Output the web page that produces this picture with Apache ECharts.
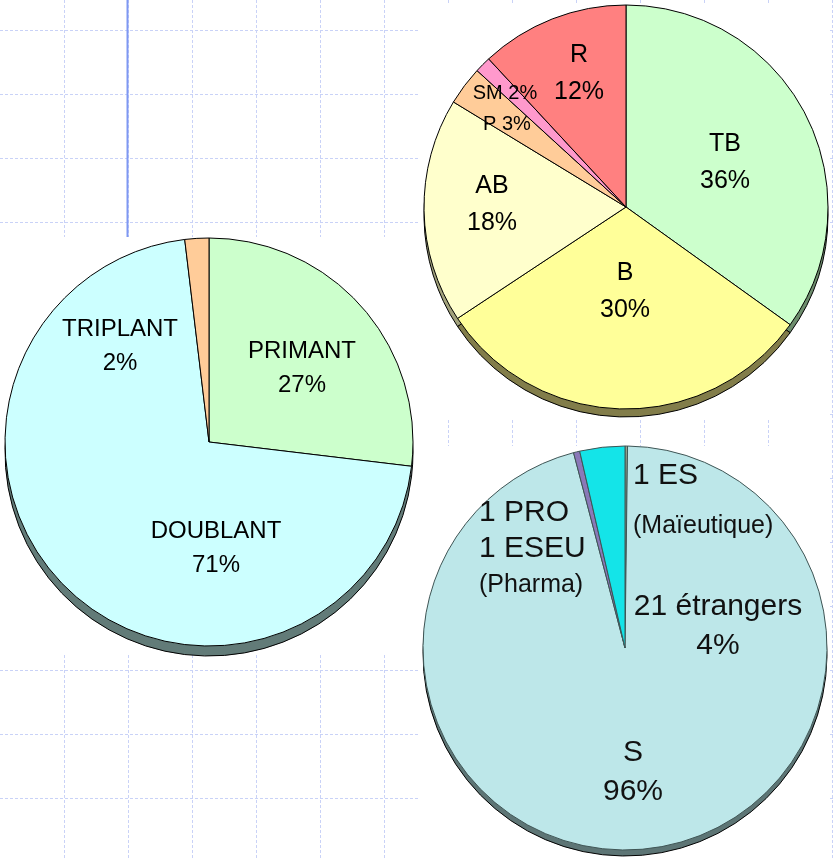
<!DOCTYPE html>
<html>
<head>
<meta charset="utf-8">
<title>Répartition des étudiants</title>
<script src="https://cdn.jsdelivr.net/npm/echarts@6/dist/echarts.min.js"></script>
<style>
  html, body { margin: 0; padding: 0; background: #fff; }
  #chart { width: 835px; height: 858px; }
</style>
</head>
<body>
<div id="chart"></div>
<script>
// top right pie: mentions
const gradeNames = ['TB', 'B', 'AB', 'P', 'SM', 'R'];
const gradeValues = [34.9, 30.8, 18.0, 3.1, 1.3, 11.9];
const gradePct = ['36%', '30%', '18%', '3%', '2%', '12%'];

// left pie: primant / doublant / triplant
const attemptNames = ['PRIMANT', 'DOUBLANT', 'TRIPLANT'];
const attemptValues = [26.9, 71.2, 1.9];
const attemptPct = ['27%', '71%', '2%'];

// bottom right pie: bac
const bacNames = ['1 ES', 'S', '1 PRO 1 ESEU', '21 étrangers'];
const bacValues = [0.2, 95.7, 0.5, 3.6];
const bacLabels = ['1 ES\n(Maïeutique)', 'S\n96%', '1 PRO\n1 ESEU\n(Pharma)', '21 étrangers\n4%'];

// colours and label placement
const gradeColors = ['#ccffcc', '#ffff99', '#ffffcc', '#ffcc99', '#ff99cc', '#ff8080'];
const gradeSide = ['#6d8d6d', '#827d4a', '#a2a27c', '#a08060', '#a06080', '#a05050'];
const gradeLabelPos = [[725, 163], [625, 292], [492, 205], [507, 124], [505, 93], [579, 74]];

const attemptColors = ['#ccffcc', '#ccffff', '#ffcc99'];
const attemptLabelPos = [[302, 368], [216, 548], [120, 346]];

const bacColors = ['#98a890', '#bde7e9', '#8a78b8', '#14e4e8'];
const bacLabelPos = [[633, 501], [633, 772], [479, 549], [718, 626]];
const bacAlign = ['left', 'center', 'left', 'center'];

const FONT = 'Liberation Sans, Arial, sans-serif';

const chart = echarts.init(document.getElementById('chart'));

// dashed background grid (slide paper), 64px cells
const gridLines = [];
for (let x = 64; x < 835; x += 64) {
  gridLines.push({ type: 'line', z: 0, shape: { x1: x + 0.5, y1: 0, x2: x + 0.5, y2: 858 },
    style: { stroke: '#c9d2f7', lineWidth: 1, lineDash: [3, 2] } });
}
for (let y = 30; y < 858; y += 64) {
  gridLines.push({ type: 'line', z: 0, shape: { x1: 0, y1: y + 0.5, x2: 835, y2: y + 0.5 },
    style: { stroke: '#c9d2f7', lineWidth: 1, lineDash: [3, 2] } });
}

function items(names, values, colors) {
  return values.map(function (v, i) {
    return { name: names[i], value: v, itemStyle: { color: colors[i] } };
  });
}

function sidePie(center, radius, names, values, colors) {
  return {
    type: 'pie',
    silent: true,
    z: 2,
    center: center,
    radius: radius,
    startAngle: 90,
    data: items(names, values, colors),
    label: { show: false },
    labelLine: { show: false },
    itemStyle: { borderColor: '#000', borderWidth: 1 },
    emphasis: { disabled: true }
  };
}

chart.setOption({
  animation: false,
  backgroundColor: '#fff',
  graphic: {
    elements: gridLines.concat([
      { type: 'line', z: 1, shape: { x1: 127.5, y1: 0, x2: 127.5, y2: 237 }, style: { stroke: '#7f98f2', lineWidth: 2 } },
      { type: 'rect', z: 1, shape: { x: 418, y: 4, width: 411, height: 414 }, style: { fill: '#fff' } },
      { type: 'rect', z: 1, shape: { x: 0, y: 237, width: 418, height: 418 }, style: { fill: '#fff' } },
      { type: 'rect', z: 1, shape: { x: 418, y: 446, width: 412, height: 412 }, style: { fill: '#fff' } }
    ])
  },
  series: [
    // 3D-ish side bands
    sidePie([626, 215], 202, gradeNames, gradeValues, gradeSide),
    sidePie([209, 452], 204, attemptNames, attemptValues, ['#627b78', '#627b78', '#627b78']),
    sidePie([625, 654], 202, bacNames, bacValues, ['#5d7575', '#5d7575', '#5d7575', '#5d7575']),
    {
      type: 'pie',
      z: 3,
      center: [626, 207],
      radius: 202,
      startAngle: 90,
      avoidLabelOverlap: false,
      data: items(gradeNames, gradeValues, gradeColors),
      itemStyle: { borderColor: '#000', borderWidth: 1 },
      emphasis: { disabled: true },
      labelLine: { show: false },
      label: {
        show: true,
        position: 'inside',
        fontFamily: FONT,
        color: '#000',
        fontSize: 25,
        lineHeight: 37,
        formatter: function (p) {
          if (p.dataIndex === 3 || p.dataIndex === 4) {
            return '{s|' + p.name + ' ' + gradePct[p.dataIndex] + '}';
          }
          return p.name + '\n' + gradePct[p.dataIndex];
        },
        rich: { s: { fontSize: 20, fontFamily: FONT, color: '#000' } }
      },
      labelLayout: function (p) {
        const pos = gradeLabelPos[p.dataIndex];
        return { x: pos[0], y: pos[1], align: 'center', verticalAlign: 'middle' };
      }
    },
    {
      type: 'pie',
      z: 3,
      center: [209, 442],
      radius: 204,
      startAngle: 90,
      avoidLabelOverlap: false,
      data: items(attemptNames, attemptValues, attemptColors),
      itemStyle: { borderColor: '#000', borderWidth: 1 },
      emphasis: { disabled: true },
      labelLine: { show: false },
      label: {
        show: true,
        position: 'inside',
        fontFamily: FONT,
        color: '#000',
        fontSize: 24,
        lineHeight: 34,
        formatter: function (p) {
          return p.name + '\n' + attemptPct[p.dataIndex];
        }
      },
      labelLayout: function (p) {
        const pos = attemptLabelPos[p.dataIndex];
        return { x: pos[0], y: pos[1], align: 'center', verticalAlign: 'middle' };
      }
    },
    {
      type: 'pie',
      z: 3,
      center: [625, 648],
      radius: 202,
      startAngle: 90,
      avoidLabelOverlap: false,
      data: items(bacNames, bacValues, bacColors),
      itemStyle: { borderColor: '#3f5555', borderWidth: 1 },
      emphasis: { disabled: true },
      labelLine: { show: false },
      label: {
        show: true,
        position: 'inside',
        fontFamily: FONT,
        color: '#111',
        formatter: function (p) {
          const lh = p.dataIndex === 0 ? 'w' : (p.dataIndex === 2 ? 'n' : 'm');
          return bacLabels[p.dataIndex].split('\n').map(function (line) {
            return line.charAt(0) === '(' ? '{' + lh + 's|' + line + '}' : '{' + lh + '|' + line + '}';
          }).join('\n');
        },
        rich: {
          w: { fontSize: 30, lineHeight: 50, fontFamily: FONT, color: '#111' },
          ws: { fontSize: 25, lineHeight: 50, fontFamily: FONT, color: '#111' },
          n: { fontSize: 30, lineHeight: 36, fontFamily: FONT, color: '#111' },
          ns: { fontSize: 25, lineHeight: 36, fontFamily: FONT, color: '#111' },
          m: { fontSize: 30, lineHeight: 39, fontFamily: FONT, color: '#111' }
        }
      },
      labelLayout: function (p) {
        const pos = bacLabelPos[p.dataIndex];
        return { x: pos[0], y: pos[1], align: bacAlign[p.dataIndex], verticalAlign: 'middle' };
      }
    }
  ]
});
</script>
</body>
</html>
